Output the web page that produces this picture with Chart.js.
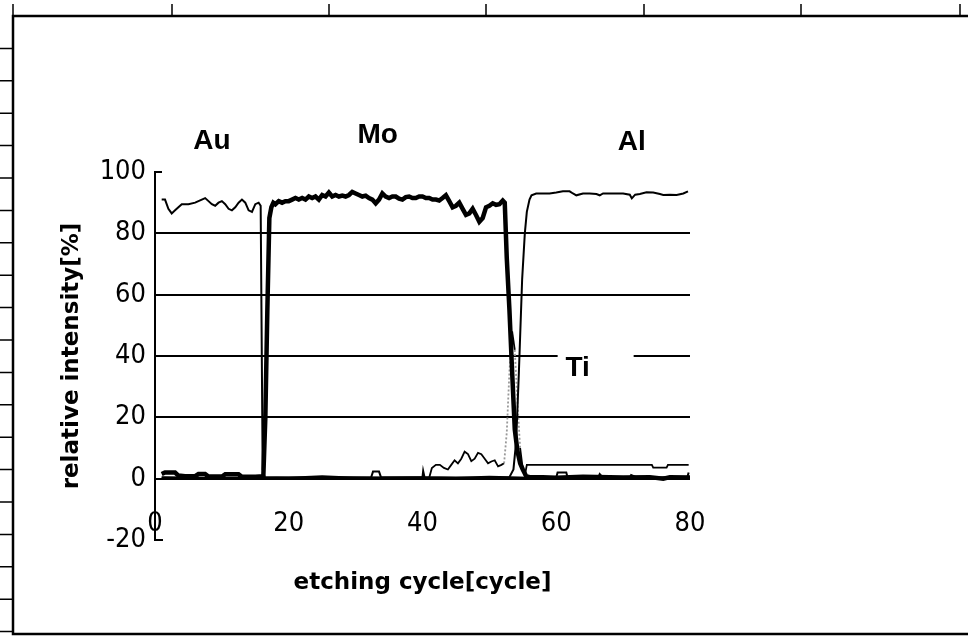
<!DOCTYPE html>
<html>
<head>
<meta charset="utf-8">
<script src="https://cdn.jsdelivr.net/npm/chart.js@4.4.1/dist/chart.umd.min.js"></script>
<style>
  body { margin: 0; background: #fff; }
  #wrap { width: 968px; height: 636px; position: relative; }
</style>
</head>
<body>
<div id="wrap"><canvas id="depth"></canvas></div>
<script>
// Au signal (thin)
const auX = [1, 1.5, 2, 2.5, 3, 3.5, 4, 5, 6, 7, 7.5, 8, 8.5, 9, 9.5, 10, 10.5, 11, 11.5, 12, 12.5, 13, 13.5, 14, 14.5, 15, 15.5, 15.8, 16.1, 16.4, 20, 25, 30, 32.3, 32.6, 33.5, 33.8, 38, 40, 40.1, 40.3, 45, 50, 53, 56, 60, 60.2, 61.5, 61.7, 66.3, 66.5, 67, 71, 71.2, 72.5, 76, 79.6, 79.8];
const auY = [91, 91, 88, 86.5, 87.5, 88.5, 89.5, 89.5, 90, 91, 91.5, 90.5, 89.5, 89, 90, 90.5, 89.5, 88, 87.5, 88.5, 90, 91, 90, 87.5, 87, 89.5, 90, 89, 3, 0.5, 0.3, 0.8, 0.3, 0.3, 2.3, 2.3, 0.4, 0.5, 0.5, 2.5, 0.5, 0.3, 0.6, 0.5, 0.3, 0.4, 2, 2, 0.4, 0.4, 1.5, 0.3, 0.3, 1.2, 0, 0.5, 0.5, 2];

// Mo signal (thick)
const moX = [1, 1.5, 3, 3.5, 4.5, 6, 6.5, 7.5, 8, 10, 10.5, 12.5, 13, 15, 16.2, 16.5, 16.8, 17.1, 17.4, 17.7, 18, 18.5, 19, 19.5, 20, 20.5, 21, 21.5, 22, 22.5, 23, 23.5, 24, 24.5, 25, 25.5, 26, 26.5, 27, 27.5, 28, 28.5, 29, 29.5, 30, 30.5, 31, 31.5, 32, 32.5, 33, 33.5, 34, 34.5, 35, 35.5, 36, 36.5, 37, 37.5, 38, 38.5, 39, 39.5, 40, 40.5, 41, 41.5, 42, 42.5, 43, 43.5, 44, 44.5, 45, 45.5, 46, 46.5, 47, 47.5, 48, 48.5, 49, 49.5, 50, 50.5, 51, 51.5, 52, 52.3, 52.6, 53, 53.4, 53.8, 54.2, 54.6, 55, 55.5, 56, 58, 60, 64, 70, 74, 76, 77, 80];
const moY = [1.5, 2, 2, 1, 0.8, 0.8, 1.5, 1.5, 0.7, 0.7, 1.4, 1.4, 0.6, 0.6, 0.8, 20, 55, 85, 88.5, 90, 89.5, 90.5, 90, 90.5, 90.5, 91, 91.5, 91, 91.5, 91, 92, 91.5, 92, 91, 92.5, 92, 93.3, 92, 92.5, 92, 92.3, 92, 92.5, 93.5, 93, 92.5, 92, 92.3, 91.5, 91, 89.8, 91, 93, 92, 91.5, 92, 92, 91.3, 91, 91.8, 92, 91.5, 91.5, 92, 92, 91.5, 91.5, 91, 91, 90.7, 91.5, 92.4, 90.5, 88.5, 89, 90, 88, 86, 86.5, 88, 86, 83.8, 85, 88.5, 89, 89.8, 89.3, 89.5, 90.7, 90, 72, 55, 35, 16, 9, 5, 3, 0.8, 0.5, 0.5, 0.3, 0.6, 0.4, 0.5, 0, 0.5, 0.4];

// Al signal (thin)
const alX = [1, 10, 20, 30, 40, 50, 53, 53.6, 54, 54.4, 54.9, 55.3, 55.6, 56, 56.3, 57, 58, 59, 60, 61, 62, 62.5, 63, 64, 65, 66, 66.5, 67, 68, 69, 70, 71, 71.3, 71.8, 72.5, 73.5, 74.5, 75.5, 76, 77, 78, 79, 79.7];
const alY = [0.3, 0.3, 0.4, 0.2, 0.4, 0.3, 0.5, 3, 12, 34, 65, 80, 87, 91, 92.4, 93, 93, 93, 93.3, 93.7, 93.7, 93, 92.4, 93, 93, 92.8, 92.4, 93, 93, 93, 93, 92.6, 91.4, 92.6, 92.8, 93.4, 93.3, 92.8, 92.5, 92.6, 92.5, 93, 93.7];

// Ti signal (thin)
const tiX = [1, 10, 20, 30, 38, 41, 41.4, 42, 42.6, 43.2, 43.8, 44.3, 44.8, 45.3, 45.8, 46.3, 46.8, 47.3, 47.8, 48.3, 48.8, 49.3, 49.8, 50.3, 50.8, 51.3, 51.8, 52.2, 52.6, 53, 53.4, 53.8, 54.2, 54.6, 55, 55.3, 55.6, 60, 65, 70, 74.3, 74.5, 76.5, 76.7, 79.8];
const tiY = [0.5, 0.2, 0.3, 0.5, 0.3, 0.3, 3.5, 4.5, 4.5, 3.5, 3, 4.5, 6, 5, 6.5, 8.8, 8, 5.7, 6.5, 8.4, 8, 6.5, 5, 5.6, 6, 4, 4.5, 5, 15, 35, 48, 42, 25, 10, 3, 1, 4.5, 4.5, 4.5, 4.5, 4.5, 3.6, 3.6, 4.5, 4.5];

const xTicks = [0, 20, 40, 60, 80];
const yTicks = [-20, 0, 20, 40, 60, 80, 100];
const layerLabels = [["Au", 8.5, 110], ["Mo", 33.3, 112], ["Al", 71.3, 109.7]];

const pts = (xs, ys) => xs.map((x, i) => ({ x: x, y: ys[i] }));
const numFont = "'Liberation Sans Narrow', 'DejaVu Sans Condensed', sans-serif";

const decor = {
  id: "decor",
  beforeDatasetsDraw(chart) {
    const c = chart.ctx, x = chart.scales.x, y = chart.scales.y;
    const tx = x.getPixelForValue(63.2), ty = y.getPixelForValue(36);
    c.save();
    c.fillStyle = "#fff";
    c.fillRect(tx - 20, ty - 22, 76, 34);
    c.fillStyle = "#000";
    c.font = "bold 28px 'Liberation Sans', Arial, sans-serif";
    c.textAlign = "center";
    c.textBaseline = "middle";
    c.fillText("Ti", tx, ty);
    c.restore();
  },
  afterDraw(chart) {
    const c = chart.ctx, x = chart.scales.x, y = chart.scales.y;
    const a = chart.chartArea;
    c.save();
    c.strokeStyle = "#000";
    c.fillStyle = "#000";
    // page frame with ruler ticks
    c.lineWidth = 2.5;
    c.beginPath();
    c.moveTo(968, 16); c.lineTo(13, 16); c.lineTo(13, 634); c.lineTo(968, 634);
    c.stroke();
    c.lineWidth = 1.5;
    c.beginPath();
    [13, 172, 329, 486, 644, 801, 960].forEach(px => { c.moveTo(px, 4); c.lineTo(px, 16); });
    for (let k = 1; k < 20; k++) { const py = 16 + k * 32.4; c.moveTo(0, py); c.lineTo(13, py); }
    c.stroke();
    // axis end marks
    c.lineWidth = 2;
    c.beginPath();
    c.moveTo(a.left, y.getPixelForValue(100)); c.lineTo(a.left + 7, y.getPixelForValue(100));
    c.moveTo(a.left, y.getPixelForValue(-20)); c.lineTo(a.left + 8, y.getPixelForValue(-20));
    c.stroke();
    // layer names
    c.font = "bold 28px 'Liberation Sans', Arial, sans-serif";
    c.textAlign = "center";
    c.textBaseline = "middle";
    layerLabels.forEach(l => c.fillText(l[0], x.getPixelForValue(l[1]), y.getPixelForValue(l[2])));
    // x axis title
    c.font = "bold 23px 'DejaVu Sans', sans-serif";
    c.fillText("etching cycle[cycle]", (a.left + a.right) / 2, a.bottom + 43);
    c.restore();
  }
};

new Chart(document.getElementById("depth"), {
  type: "line",
  data: {
    datasets: [
      { label: "Mo", data: pts(moX, moY), borderColor: "#000", borderWidth: 4.5, order: 0 },
      { label: "Au", data: pts(auX, auY), borderColor: "#000", borderWidth: 2, order: 1 },
      { label: "Al", data: pts(alX, alY), borderColor: "#000", borderWidth: 2, order: 2 },
      {
        label: "Ti", data: pts(tiX, tiY), borderColor: "#000", borderWidth: 1.8, order: 3,
        segment: {
          borderColor: ctx => Math.abs(ctx.p1.parsed.y - ctx.p0.parsed.y) > 8 ? "#999" : "#000",
          borderDash: ctx => Math.abs(ctx.p1.parsed.y - ctx.p0.parsed.y) > 8 ? [2, 2] : undefined
        }
      }
    ]
  },
  options: {
    responsive: true,
    maintainAspectRatio: false,
    animation: false,
    elements: { point: { radius: 0 }, line: { tension: 0 } },
    layout: { padding: { left: 0, top: 172, right: 278, bottom: 96 } },
    plugins: { legend: { display: false }, tooltip: { enabled: false } },
    scales: {
      x: {
        type: "linear",
        position: { y: 0 },
        min: 0,
        max: 80,
        afterFit: s => { s.height = 0; },
        afterBuildTicks: s => { s.ticks = xTicks.map(v => ({ value: v })); },
        grid: { display: false, drawTicks: false },
        border: { display: false },
        ticks: { color: "#000", padding: 29, maxRotation: 0, font: { family: numFont, size: 27 } }
      },
      y: {
        min: -20,
        max: 100,
        afterFit: s => { s.width = 155; },
        afterBuildTicks: s => { s.ticks = yTicks.map(v => ({ value: v })); },
        grid: {
          drawTicks: false,
          lineWidth: 2,
          color: ctx => (ctx.tick && (ctx.tick.value === 100 || ctx.tick.value === -20)) ? "rgba(0,0,0,0)" : "#000"
        },
        border: { display: true, color: "#000", width: 2 },
        title: {
          display: true,
          text: "relative intensity[%]",
          color: "#000",
          padding: { top: 58 },
          font: { family: "'DejaVu Sans', sans-serif", size: 23, weight: "bold" }
        },
        ticks: { color: "#000", padding: 9, font: { family: numFont, size: 27 } }
      }
    }
  },
  plugins: [decor]
});
</script>
</body>
</html>
